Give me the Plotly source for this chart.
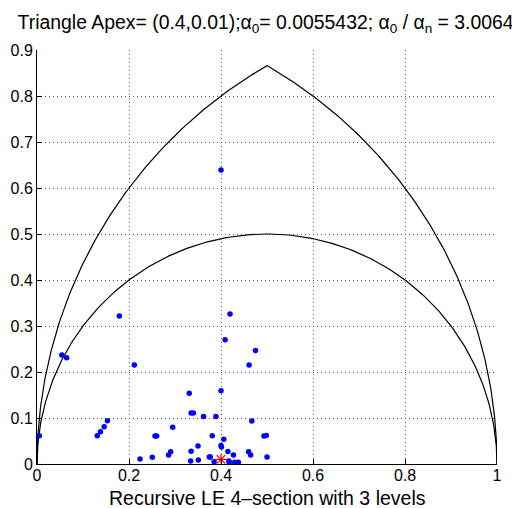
import numpy as np
import plotly.graph_objects as go

# Data points
pts_x = [0.179, 0.4196, 0.409, 0.475, 0.054, 0.0645, 0.2116, 0.461, 0.400, 0.331,
         0.335, 0.340, 0.362, 0.389, 0.467, 0.153, 0.146, 0.138, 0.131, 0.295,
         0.005, 0.2565, 0.260, 0.381, 0.406, 0.4935, 0.4985, 0.400, 0.401, 0.350,
         0.2906, 0.286, 0.335, 0.415, 0.460, 0.4645, 0.427, 0.3746, 0.3768, 0.2507,
         0.224, 0.500, 0.334, 0.3507, 0.385, 0.417, 0.418, 0.4297, 0.4377, 0.400]
pts_y = [0.322, 0.326, 0.270, 0.247, 0.237, 0.231, 0.215, 0.215, 0.159, 0.154,
         0.111, 0.111, 0.103, 0.103, 0.0935, 0.094, 0.081, 0.070, 0.0616, 0.080,
         0.0616, 0.061, 0.061, 0.0616, 0.0536, 0.061, 0.062, 0.040, 0.037, 0.039,
         0.0268, 0.0196, 0.0275, 0.027, 0.0268, 0.0196, 0.0196, 0.0152, 0.0152, 0.0145,
         0.011, 0.015, 0.0065, 0.0087, 0.005, 0.0065, 0.0037, 0.004, 0.004, 0.639]
apex_x = [0.4]
apex_y = [0.01]

x_ticks = [0, 0.2, 0.4, 0.6, 0.8, 1]
x_labels = ["0", "0.2", "0.4", "0.6", "0.8", "1"]
y_ticks = [0, 0.1, 0.2, 0.3, 0.4, 0.5, 0.6, 0.7, 0.8, 0.9]
y_labels = ["0", "0.1", "0.2", "0.3", "0.4", "0.5", "0.6", "0.7", "0.8", "0.9"]

# Boundary curves: semicircle (centre 0.5, r 0.5) and pointed arch (unit circles)
t = np.linspace(np.pi, 0, 301)
semi_x = 0.5 + 0.5 * np.cos(t)
semi_y = 0.5 * np.sin(t)
a1 = np.linspace(np.pi, 2 * np.pi / 3, 200)
a2 = np.linspace(np.pi / 3, 0, 200)
arch_x = np.concatenate([1 + np.cos(a1), np.cos(a2)])
arch_y = np.concatenate([np.sin(a1), np.sin(a2)])

fig = go.Figure()
fig.add_trace(go.Scatter(x=arch_x, y=arch_y, mode="lines",
                         line=dict(color="black", width=1.2), hoverinfo="skip"))
fig.add_trace(go.Scatter(x=semi_x, y=semi_y, mode="lines",
                         line=dict(color="black", width=1.2), hoverinfo="skip"))
fig.add_trace(go.Scatter(x=pts_x, y=pts_y, mode="markers",
                         marker=dict(color="#0000ff", size=5.5, line=dict(width=0))))
fig.add_trace(go.Scatter(x=apex_x, y=apex_y, mode="markers",
                         marker=dict(color="#ff0000", size=10, symbol="asterisk-open",
                                     line=dict(color="#ff0000", width=1.2))))

font = "Liberation Sans, Arial, Helvetica, sans-serif"
axis_common = dict(showline=True, linecolor="black", linewidth=1, mirror=False,
                   ticks="inside", ticklen=5, tickcolor="black", zeroline=False,
                   automargin=False,
                   showgrid=True, gridcolor="#555555", gridwidth=1, griddash="1px,3px",
                   tickfont=dict(family=font, size=16, color="black"))
fig.update_xaxes(range=[0, 1], tickvals=x_ticks, ticktext=x_labels,
                 ticklabelstandoff=-3, **axis_common)
fig.update_yaxes(range=[0, 0.9], tickvals=y_ticks, ticktext=y_labels, **axis_common)

# page body has an 8px margin, so the figure is 512x500 placed at (8, 8)
W, H = 512, 500
L, R, T, B = 29, 23, 42, 44
fig.update_layout(
    width=W, height=H,
    margin=dict(l=L, r=R, t=T, b=B),
    plot_bgcolor="white", paper_bgcolor="white",
    showlegend=False,
    title=dict(text="Triangle Apex= (0.4,0.01);α<sub>0</sub>= 0.0055432; α<sub>0</sub> / α<sub>n</sub> = 3.0064",
               x=0.497, xref="paper", xanchor="center",
               y=1 - 14 / H, yanchor="middle",
               font=dict(family=font, size=19.4, color="black")),
    annotations=[dict(text="Recursive LE 4–section with 3 levels", xref="paper", yref="paper",
                      x=0.5, y=-(490 - 456) / (H - T - B), xanchor="center", yanchor="middle",
                      showarrow=False, font=dict(family=font, size=19.5, color="black"))],
)

fig.write_html("out.html")
